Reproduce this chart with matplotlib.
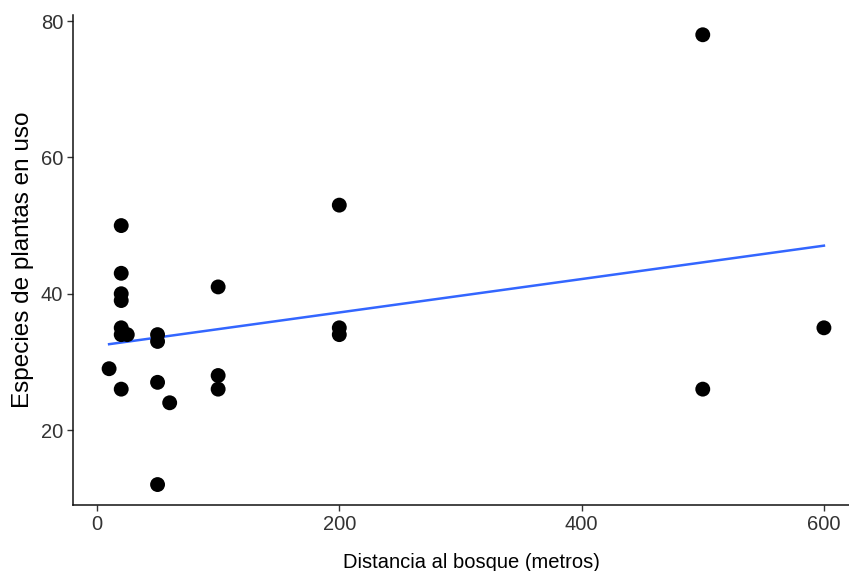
import matplotlib
matplotlib.use('Agg')
import matplotlib.pyplot as plt
import numpy as np

plt.rcParams['font.family'] = ['Liberation Sans', 'DejaVu Sans']

# distancia al bosque (m) y especies de plantas en uso
distancia = [10, 20, 20, 20, 20, 20, 20, 25, 20,
             50, 50, 50, 50, 60, 100, 100, 100,
             200, 200, 200, 500, 500, 600]
especies = [29, 50, 43, 40, 39, 35, 34, 34, 26,
            34, 33, 27, 12, 24, 41, 28, 26,
            53, 35, 34, 78, 26, 35]
xticks = [0, 200, 400, 600]
yticks = [20, 40, 60, 80]

x = np.array(distancia, dtype=float)
y = np.array(especies, dtype=float)

fig = plt.figure(figsize=(8.49, 5.71), dpi=100)
ax = fig.add_axes([73/849, 1 - 505/571, (849 - 73)/849, (505 - 15)/571])

ax.scatter(x, y, s=115, color='black', edgecolors='none', zorder=3)

# ajuste lineal (geom_smooth method = lm)
b, a = np.polyfit(x, y, 1)
xs = np.linspace(x.min(), x.max(), 100)
ax.plot(xs, a + b*xs, color='#3366FF', lw=1.8, zorder=2)

ax.set_xlim(-19.8, 620.7)
ax.set_ylim(9.0, 80.9)
ax.set_xticks(xticks)
ax.set_yticks(yticks)

for s in ['top', 'right']:
    ax.spines[s].set_visible(False)
for s in ['left', 'bottom']:
    ax.spines[s].set_linewidth(1.1)
    ax.spines[s].set_color('#111111')

ax.tick_params(length=4, width=1.0, color='#333333', labelsize=14.5,
               labelcolor='#333333', pad=3)

fig.text(471/849, 1 - 562/571, 'Distancia al bosque (metros)',
         ha='center', va='center', fontsize=14.5, color='black')
fig.text(23/849, 1 - 260/571, 'Especies de plantas en uso',
         ha='center', va='center', rotation=90, fontsize=17.5, color='black')

fig.savefig('out.png', dpi=100)
